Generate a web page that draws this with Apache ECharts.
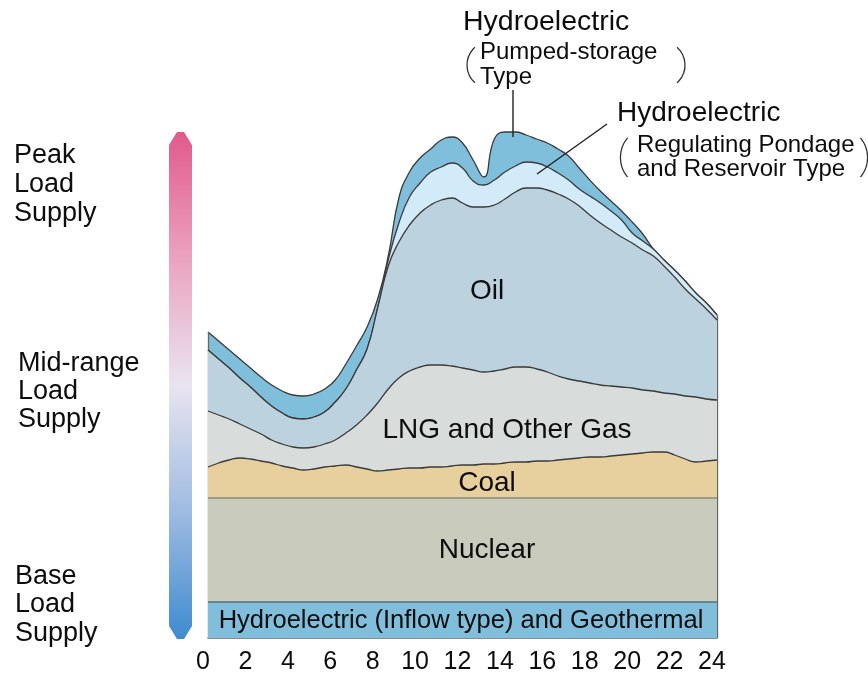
<!DOCTYPE html>
<html>
<head>
<meta charset="utf-8">
<title>Daily load curve by power source</title>
<script src="https://cdn.jsdelivr.net/npm/echarts@6/dist/echarts.min.js"></script>
<style>
  html, body { margin: 0; padding: 0; background: #fff; }
  #chart { width: 868px; height: 676px; }
</style>
</head>
<body>
<div id="chart"></div>
<script>
// hour of day, every half hour
const hours = [0, 0.5, 1, 1.5, 2, 2.5, 3, 3.5, 4, 4.5, 5, 5.5, 6, 6.5, 7, 7.5, 8, 8.5, 9, 9.5, 10, 10.5, 11, 11.5,
  12, 12.5, 13, 13.5, 14, 14.5, 15, 15.5, 16, 16.5, 17, 17.5, 18, 18.5, 19, 19.5, 20, 20.5, 21, 21.5, 22, 22.5, 23, 23.5, 24]

// output of each source (stacked, bottom to top)
const inflowHydro = [7.2, 7.2, 7.2, 7.2, 7.2, 7.2, 7.2, 7.2, 7.2, 7.2, 7.2, 7.2, 7.2, 7.2, 7.2, 7.2, 7.2, 7.2, 7.2, 7.2, 7.2, 7.2, 7.2, 7.2,
  7.2, 7.2, 7.2, 7.2, 7.2, 7.2, 7.2, 7.2, 7.2, 7.2, 7.2, 7.2, 7.2, 7.2, 7.2, 7.2, 7.2, 7.2, 7.2, 7.2, 7.2, 7.2, 7.2, 7.2, 7.2]
const nuclear = [20.8, 20.8, 20.8, 20.8, 20.8, 20.8, 20.8, 20.8, 20.8, 20.8, 20.8, 20.8, 20.8, 20.8, 20.8, 20.8, 20.8, 20.8, 20.8, 20.8, 20.8, 20.8, 20.8, 20.8,
  20.8, 20.8, 20.8, 20.8, 20.8, 20.8, 20.8, 20.8, 20.8, 20.8, 20.8, 20.8, 20.8, 20.8, 20.8, 20.8, 20.8, 20.8, 20.8, 20.8, 20.8, 20.8, 20.8, 20.8, 20.8]
const coal = [6.2, 7.0, 7.6, 8.0, 7.8, 7.4, 7.0, 6.4, 6.0, 5.6, 5.8, 6.2, 6.4, 6.6, 6.2, 5.8, 5.4, 5.6, 5.8, 6.0, 6.0, 6.2, 6.2, 6.4,
  6.6, 6.6, 6.8, 6.8, 7.0, 7.2, 7.2, 7.4, 7.4, 7.6, 7.8, 8.0, 8.2, 8.2, 8.4, 8.6, 8.8, 9.0, 9.2, 9.2, 8.6, 7.8, 7.2, 7.4, 7.6]
const lngGas = [11.2, 9.6, 8.2, 6.8, 6.0, 5.4, 4.6, 4.4, 4.2, 4.4, 4.4, 4.6, 5.2, 6.4, 8.4, 10.8, 13.6, 16.2, 18.2, 19.4, 20.2, 20.4, 20.4, 20.0,
  19.4, 19.0, 18.4, 18.6, 18.8, 19.0, 19.0, 18.4, 17.8, 16.8, 16.0, 15.4, 14.8, 14.4, 14.0, 13.6, 13.2, 12.6, 12.2, 11.8, 12.2, 12.6, 13.0, 12.4, 12.0]
const oil = [12.2, 11.2, 10.2, 9.2, 8.4, 7.4, 6.8, 6.2, 5.8, 5.8, 6.0, 6.4, 7.6, 8.8, 11.0, 13.2, 19.0, 24.6, 27.2, 29.2, 30.8, 32.0, 33.0, 33.6,
  33.0, 32.6, 33.0, 33.2, 34.0, 35.0, 35.8, 36.2, 36.4, 36.4, 36.0, 35.0, 33.6, 32.4, 31.2, 30.0, 29.0, 28.0, 27.0, 25.4, 23.4, 21.4, 19.6, 18.0, 16.0]
const regulatingHydro = [0, 0, 0, 0, 0, 0, 0, 0, 0, 0, 0, 0, 0, 0, 0, 0, 0, 1.2, 3.8, 5.6, 6.0, 6.6, 6.6, 7.0,
  7.0, 5.2, 4.4, 5.0, 5.4, 5.2, 5.2, 5.0, 4.6, 4.2, 3.8, 3.4, 3.8, 4.0, 3.8, 3.4, 2.0, 1.8, 1.4, 1.2, 1.4, 1.6, 1.2, 1.2, 1.0]
const pumpedHydro = [3.6, 3.6, 3.6, 3.8, 3.8, 4.0, 4.2, 4.4, 4.6, 4.6, 4.6, 4.6, 4.4, 5.0, 4.8, 4.4, 1.8, 0.8, 5.0, 5.0, 5.0, 4.6, 5.4, 5.2,
  5.0, 4.2, 1.6, 8.2, 8.0, 6.8, 5.4, 4.8, 4.8, 4.8, 4.8, 4.2, 3.2, 2.4, 2.0, 1.8, 2.2, 1.4, 0, 0, 0, 0, 0, 0, 0]

const FONT = '"Liberation Sans", Arial, Helvetica, sans-serif'

const layers = [inflowHydro, nuclear, coal, lngGas, oil, regulatingHydro, pumpedHydro]
const last = hours.length - 1
const totalStart = layers.reduce((s, arr) => s + arr[0], 0)
const totalEnd = layers.reduce((s, arr) => s + arr[last], 0)

function layer(name, values, fill, line, z) {
	return {
		name: name,
		type: 'line',
		stack: 'load',
		smooth: 0.5,
		symbol: 'none',
		silent: true,
		z: z,
		lineStyle: { color: line, width: 1.3 },
		areaStyle: { color: fill, opacity: 1 },
		data: values,
	}
}

function label(text, x, y, size, align) {
	return {
		type: 'text',
		z: 100,
		style: {
			text: text,
			x: x,
			y: y,
			font: size + 'px ' + FONT,
			fill: '#0d0d0d',
			textAlign: align || 'center',
			textVerticalAlign: 'middle',
		},
	}
}

function bracket(cx, cy, r, a0, a1) {
	return {
		type: 'arc',
		z: 100,
		shape: { cx: cx, cy: cy, r: r, startAngle: a0, endAngle: a1, clockwise: true },
		style: { stroke: '#333', lineWidth: 1.3, fill: 'none' },
	}
}

const deg = Math.PI / 180

const inflowSeries = layer('Hydroelectric (Inflow type) and Geothermal', inflowHydro, '#80bedb', '#56707c', 9)
// outline of the left and right edge of the stacked shape
inflowSeries.markLine = {
	silent: true,
	symbol: 'none',
	label: { show: false },
	lineStyle: { color: '#666', width: 1.3, type: 'solid' },
	data: [
		[{ coord: [0, 0] }, { coord: [0, totalStart] }],
		[{ coord: [last, 0] }, { coord: [last, totalEnd] }],
	],
}

const option = {
	animation: false,
	grid: { left: 208, right: 151, top: 88, bottom: 38 },
	xAxis: {
		type: 'category',
		boundaryGap: false,
		data: hours,
		axisLine: { show: true, lineStyle: { color: '#666', width: 1.5 } },
		axisTick: { show: false },
		splitLine: { show: false },
		axisLabel: {
			interval: (index) => index % 4 === 0,
			fontSize: 25,
			fontFamily: FONT,
			color: '#0d0d0d',
			margin: 12,
			padding: [0, 10, 0, 0],
		},
	},
	yAxis: { type: 'value', min: 0, max: 110, show: false },
	series: [
		inflowSeries,
		layer('Nuclear', nuclear, '#c9ccbc', '#8a8c7c', 8),
		layer('Coal', coal, '#e8cf9e', '#3a3a3a', 7),
		layer('LNG and Other Gas', lngGas, '#d8dddb', '#3a3a3a', 6),
		layer('Oil', oil, '#bcd2de', '#3a3a3a', 5),
		layer('Hydroelectric (Regulating Pondage and Reservoir Type)', regulatingHydro, '#d3eaf8', '#3a3a3a', 4),
		layer('Hydroelectric (Pumped-storage Type)', pumpedHydro, '#80bfdb', '#3a3a3a', 3),
	],
	graphic: [
		// load range bar
		{
			type: 'polygon',
			z: 100,
			shape: { points: [[169, 145], [177, 132], [184, 132], [192, 145], [192, 626], [184, 639], [177, 639], [169, 626]] },
			style: {
				fill: {
					type: 'linear', x: 0, y: 0, x2: 0, y2: 1,
					colorStops: [
						{ offset: 0, color: '#e05a8c' },
						{ offset: 0.25, color: '#eba3bf' },
						{ offset: 0.5, color: '#e9e4f0' },
						{ offset: 0.75, color: '#9ebbe2' },
						{ offset: 1, color: '#3f8bd0' },
					],
				},
			},
		},
		label('Peak', 14, 156, 27, 'left'),
		label('Load', 14, 185, 27, 'left'),
		label('Supply', 14, 214, 27, 'left'),
		label('Mid-range', 18, 364, 27, 'left'),
		label('Load', 18, 392, 27, 'left'),
		label('Supply', 18, 420, 27, 'left'),
		label('Base', 15, 577, 27, 'left'),
		label('Load', 15, 605, 27, 'left'),
		label('Supply', 15, 634, 27, 'left'),

		// layer names
		label('Oil', 487, 291, 28),
		label('LNG and Other Gas', 507, 430, 28),
		label('Coal', 487, 483, 28),
		label('Nuclear', 487, 550, 28),
		label('Hydroelectric (Inflow type) and Geothermal', 461, 621, 25.5),

		// pumped-storage callout
		label('Hydroelectric', 463, 22, 28.5, 'left'),
		label('Pumped-storage', 480, 52, 24, 'left'),
		label('Type', 480, 77, 24, 'left'),
		bracket(491, 65, 24, 132 * deg, 228 * deg),
		bracket(661, 65, 24, -48 * deg, 48 * deg),
		{ type: 'line', z: 100, shape: { x1: 513, y1: 90, x2: 513, y2: 137 }, style: { stroke: '#222', lineWidth: 1.4 } },

		// regulating pondage callout
		label('Hydroelectric', 617, 113, 28, 'left'),
		label('Regulating Pondage', 637, 145, 24, 'left'),
		label('and Reservoir Type', 637, 169, 24, 'left'),
		bracket(651, 157.5, 30.6, 140 * deg, 220 * deg),
		bracket(837, 157.5, 30.6, -40 * deg, 40 * deg),
		{ type: 'line', z: 100, shape: { x1: 607, y1: 124, x2: 537, y2: 174 }, style: { stroke: '#222', lineWidth: 1.4 } },
	],
}

const myChart = echarts.init(document.getElementById('chart'))
myChart.setOption(option)

window.addEventListener('resize', () => {
	myChart.resize()
})
</script>
</body>
</html>
